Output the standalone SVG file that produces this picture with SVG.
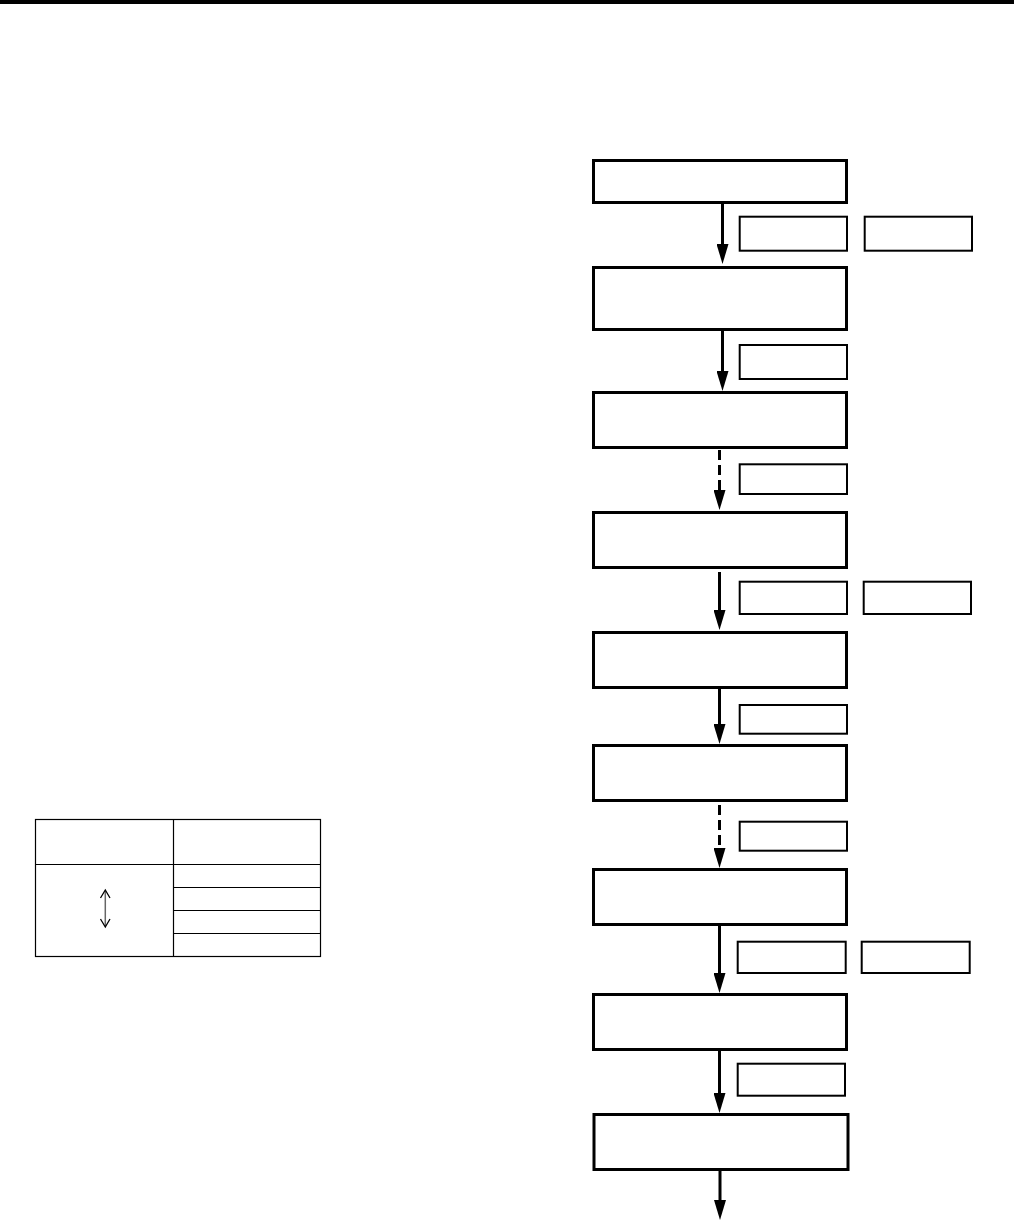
<svg xmlns="http://www.w3.org/2000/svg" width="1014" height="1222" viewBox="0 0 1014 1222">
<style>
.node{fill:#fff;stroke:#000;stroke-width:3}
.tag{fill:#fff;stroke:#000;stroke-width:2}
.conn{stroke:#000;stroke-width:3;fill:none}
.dash{stroke-dasharray:10 5}
.tbl{fill:none;stroke:#000;stroke-width:1.2}
</style>
<defs>
<marker id="ah" viewBox="0 0 20 12" refX="10" refY="6" markerWidth="20" markerHeight="12" markerUnits="userSpaceOnUse" orient="auto">
<path d="M0,0 L20,6 L0,12 z" fill="#000"/>
</marker>
</defs>
<rect x="0" y="0" width="1014" height="4" fill="#000"/>
<g id="n1"><rect class="node" x="593.5" y="160.5" width="253" height="42"/></g>
<g id="n2"><rect class="node" x="593.5" y="267.5" width="253" height="62"/></g>
<g id="n3"><rect class="node" x="593.5" y="392.5" width="253" height="55"/></g>
<g id="n4"><rect class="node" x="593.5" y="512.5" width="253" height="55"/></g>
<g id="n5"><rect class="node" x="593.5" y="632.5" width="253" height="55"/></g>
<g id="n6"><rect class="node" x="593.5" y="745.5" width="253" height="55"/></g>
<g id="n7"><rect class="node" x="593.5" y="869.5" width="253" height="55"/></g>
<g id="n8"><rect class="node" x="593.5" y="994.5" width="253" height="55"/></g>
<g id="n9"><rect class="node" x="594" y="1114.5" width="254" height="55"/></g>
<g id="t1a"><rect class="tag" x="739.7" y="216.7" width="107.3" height="34"/></g>
<g id="t1b"><rect class="tag" x="864.7" y="216.7" width="107.3" height="34"/></g>
<g id="t2"><rect class="tag" x="739.7" y="345" width="107.3" height="34"/></g>
<g id="t3"><rect class="tag" x="739.7" y="464.3" width="107.3" height="29.7"/></g>
<g id="t4a"><rect class="tag" x="739.7" y="581.7" width="107.3" height="32.3"/></g>
<g id="t4b"><rect class="tag" x="863.7" y="581.7" width="107.3" height="32.3"/></g>
<g id="t5"><rect class="tag" x="739.7" y="705" width="107.3" height="28.7"/></g>
<g id="t6"><rect class="tag" x="739.7" y="821.7" width="107.3" height="29"/></g>
<g id="t7a"><rect class="tag" x="737.7" y="941.7" width="108" height="31.3"/></g>
<g id="t7b"><rect class="tag" x="861.7" y="941.7" width="108" height="31.3"/></g>
<g id="t8"><rect class="tag" x="737.7" y="1063.7" width="107.3" height="32"/></g>
<g id="connectors">
<line class="conn" x1="722.5" y1="204" x2="722.5" y2="254" marker-end="url(#ah)"/>
<line class="conn" x1="722.5" y1="331" x2="722.5" y2="381" marker-end="url(#ah)"/>
<line class="conn dash" x1="719.5" y1="450" x2="719.5" y2="500" marker-end="url(#ah)"/>
<line class="conn" x1="719.5" y1="572" x2="719.5" y2="620" marker-end="url(#ah)"/>
<line class="conn" x1="719.5" y1="689" x2="719.5" y2="734" marker-end="url(#ah)"/>
<line class="conn dash" x1="719.5" y1="805" x2="719.5" y2="858" marker-end="url(#ah)"/>
<line class="conn" x1="719.5" y1="926" x2="719.5" y2="983" marker-end="url(#ah)"/>
<line class="conn" x1="719.5" y1="1051" x2="719.5" y2="1103" marker-end="url(#ah)"/>
<line class="conn" x1="720" y1="1171" x2="720" y2="1210" marker-end="url(#ah)"/>
</g>
<g id="table">
<rect class="tbl" x="35.5" y="819.5" width="285" height="137"/>
<line class="tbl" x1="173.5" y1="819.5" x2="173.5" y2="956.5"/>
<line class="tbl" x1="35.5" y1="864.5" x2="320.5" y2="864.5"/>
<line class="tbl" x1="173.5" y1="887.5" x2="320.5" y2="887.5"/>
<line class="tbl" x1="173.5" y1="910.5" x2="320.5" y2="910.5"/>
<line class="tbl" x1="173.5" y1="933.5" x2="320.5" y2="933.5"/>
<line x1="105.3" y1="891" x2="105.3" y2="926" stroke="#666" stroke-width="1.5"/>
<path d="M100.5,898 L105.3,890 L110,898 M100.5,919 L105.3,927 L110,919" fill="none" stroke="#000" stroke-width="1.3"/>
</g>
</svg>
